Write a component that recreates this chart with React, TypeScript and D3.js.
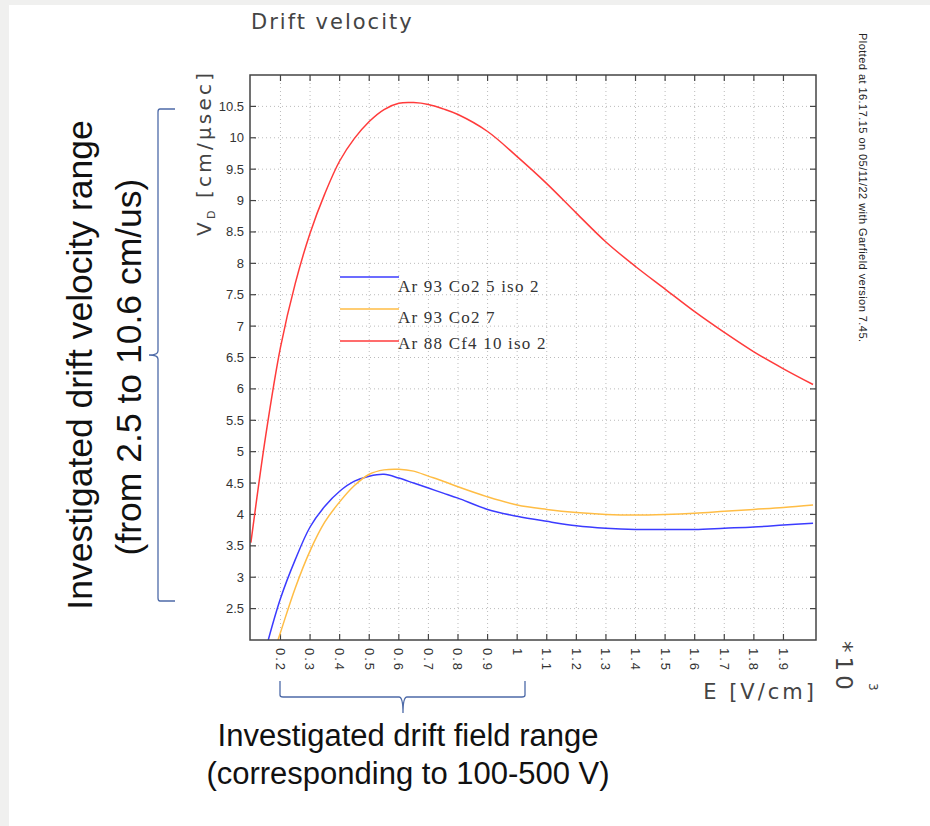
import React, { useRef, useEffect } from 'react';
import * as d3 from 'd3';

// E field in units of 10^3 V/cm
const fieldValues = [0.1, 0.15, 0.2, 0.25, 0.3, 0.35, 0.4, 0.45, 0.5, 0.55, 0.6, 0.65, 0.7, 0.75, 0.8, 0.9, 1.0, 1.1, 1.2, 1.3, 1.4, 1.5, 1.6, 1.7, 1.8, 1.9, 2.0];

// drift velocity in cm/us, null where the curve is off the plot
const ar93Co2Iso = [null, 1.85, 2.66, 3.28, 3.8, 4.13, 4.37, 4.53, 4.61, 4.64, 4.58, 4.5, 4.42, 4.34, 4.26, 4.08, 3.97, 3.89, 3.82, 3.78, 3.76, 3.76, 3.76, 3.78, 3.8, 3.83, 3.86];
const ar93Co2 = [null, 1.4, 2.12, 2.83, 3.42, 3.88, 4.2, 4.46, 4.64, 4.71, 4.72, 4.69, 4.61, 4.53, 4.44, 4.28, 4.15, 4.08, 4.03, 4.0, 3.99, 4.0, 4.02, 4.05, 4.08, 4.11, 4.15];
const ar88Cf4Iso = [3.55, 5.25, 6.66, 7.68, 8.48, 9.11, 9.63, 9.99, 10.26, 10.45, 10.55, 10.56, 10.53, 10.46, 10.37, 10.1, 9.7, 9.27, 8.8, 8.34, 7.95, 7.59, 7.23, 6.9, 6.59, 6.32, 6.07];

const seriesNames = ['Ar 93 Co2 5 iso 2', 'Ar 93 Co2 7', 'Ar 88 Cf4 10 iso 2'];
const seriesColors = ['#3b3bff', '#ffbd45', '#ff3b3b'];

const xTickValues = [0.2, 0.3, 0.4, 0.5, 0.6, 0.7, 0.8, 0.9, 1, 1.1, 1.2, 1.3, 1.4, 1.5, 1.6, 1.7, 1.8, 1.9];
const yTickValues = [2.5, 3, 3.5, 4, 4.5, 5, 5.5, 6, 6.5, 7, 7.5, 8, 8.5, 9, 9.5, 10, 10.5];

const width = 930;
const height = 826;

const DriftChart = () => {
    const svgRef = useRef<SVGSVGElement>(null);

    useEffect(() => {
        const svg = d3.select(svgRef.current);
        svg.selectAll('*').remove();

        const margin = { top: 75, right: 114, bottom: 186, left: 250 };
        const x = d3.scaleLinear().domain([0.097, 2.01]).range([margin.left, width - margin.right]);
        const y = d3.scaleLinear().domain([2, 11]).range([height - margin.bottom, margin.top]);
        const x0 = margin.left, x1 = width - margin.right;
        const y0 = height - margin.bottom, y1 = margin.top;

        // page background with grey strip
        svg.append('rect').attr('width', width).attr('height', height).attr('fill', '#f0f0ef');
        svg.append('rect').attr('x', 9).attr('y', 5).attr('width', width - 9).attr('height', height - 5).attr('fill', '#fff');

        // grid
        const grid = svg.append('g').attr('stroke', '#bbb').attr('stroke-width', 1).attr('stroke-dasharray', '1,3');
        grid.selectAll('.gx').data(xTickValues).enter().append('line')
            .attr('x1', d => x(d)).attr('x2', d => x(d)).attr('y1', y0).attr('y2', y1);
        grid.selectAll('.gy').data(yTickValues).enter().append('line')
            .attr('y1', d => y(d)).attr('y2', d => y(d)).attr('x1', x0).attr('x2', x1);

        // ticks, pointing inwards on every side
        const ticks = svg.append('g').attr('stroke', '#444').attr('stroke-width', 1.2);
        xTickValues.forEach(d => {
            ticks.append('line').attr('x1', x(d)).attr('x2', x(d)).attr('y1', y0).attr('y2', y0 - 6);
            ticks.append('line').attr('x1', x(d)).attr('x2', x(d)).attr('y1', y1).attr('y2', y1 + 6);
        });
        yTickValues.forEach(d => {
            ticks.append('line').attr('y1', y(d)).attr('y2', y(d)).attr('x1', x0).attr('x2', x0 + 6);
            ticks.append('line').attr('y1', y(d)).attr('y2', y(d)).attr('x1', x1).attr('x2', x1 - 6);
        });

        // curves
        svg.append('clipPath').attr('id', 'plotClip').append('rect')
            .attr('x', x0).attr('y', y1).attr('width', x1 - x0).attr('height', y0 - y1);

        const line = d3.line<number | null>()
            .defined(d => d !== null)
            .x((d, i) => x(fieldValues[i]))
            .y(d => y(d as number))
            .curve(d3.curveCatmullRom);

        const curves = svg.append('g').attr('clip-path', 'url(#plotClip)');
        [ar93Co2Iso, ar93Co2, ar88Cf4Iso].forEach((series, i) => {
            curves.append('path')
                .attr('d', line(series))
                .attr('fill', 'none')
                .attr('stroke', seriesColors[i])
                .attr('stroke-width', 1.5);
        });

        // frame
        svg.append('rect').attr('x', x0).attr('y', y1).attr('width', x1 - x0).attr('height', y0 - y1)
            .attr('fill', 'none').attr('stroke', '#444').attr('stroke-width', 1.5);

        // y tick labels
        svg.append('g').selectAll('text').data(yTickValues).enter().append('text')
            .attr('x', x0 - 6).attr('y', d => y(d)).attr('dy', '0.35em')
            .attr('text-anchor', 'end')
            .attr('font-family', 'Liberation Sans, Arial, sans-serif').attr('font-size', 13).attr('fill', '#333')
            .text(d => String(d));

        // x tick labels, turned
        svg.append('g').selectAll('text').data(xTickValues).enter().append('text')
            .attr('transform', d => `translate(${x(d)},${y0 + 8}) rotate(90)`)
            .attr('dy', '0.35em')
            .attr('font-family', 'Liberation Sans, Arial, sans-serif').attr('font-size', 13).attr('fill', '#333')
            .attr('letter-spacing', 2)
            .text(d => String(d));

        const garfieldFont = 'DejaVu Sans, sans-serif';

        svg.append('text').attr('x', 251).attr('y', 29)
            .attr('font-family', garfieldFont).attr('font-size', 21).attr('letter-spacing', 2)
            .attr('fill', '#444').text('Drift velocity');

        const yLabel = svg.append('text').attr('transform', 'translate(211,236) rotate(-90)')
            .attr('font-family', garfieldFont).attr('font-size', 20).attr('letter-spacing', 3.2).attr('fill', '#444');
        yLabel.append('tspan').text('V');
        yLabel.append('tspan').attr('font-size', 11).attr('dy', 4).text('D');
        yLabel.append('tspan').attr('dy', -4).text(' [cm/\u03bcsec]');

        svg.append('text').attr('x', x1 + 1).attr('y', 699).attr('text-anchor', 'end')
            .attr('font-family', garfieldFont).attr('font-size', 21).attr('letter-spacing', 3)
            .attr('fill', '#444').text('E [V/cm]');

        svg.append('text').attr('transform', 'translate(836,641) rotate(90)')
            .attr('font-family', garfieldFont).attr('font-size', 23).attr('letter-spacing', 4)
            .attr('fill', '#444').text('*10');
        svg.append('text').attr('transform', 'translate(869,683) rotate(90)')
            .attr('font-family', garfieldFont).attr('font-size', 12)
            .attr('fill', '#444').text('3');

        svg.append('text').attr('transform', 'translate(859,33) rotate(90)')
            .attr('font-family', 'Liberation Sans, Arial, sans-serif').attr('font-size', 11)
            .attr('letter-spacing', 0.45)
            .attr('fill', '#222').text('Plotted at 16.17.15 on 05/11/22 with Garfield version 7.45.');

        // legend
        const legendY = [277, 309, 341];
        const legend = svg.append('g');
        seriesNames.forEach((name, i) => {
            legend.append('line').attr('x1', 340).attr('x2', 399).attr('y1', legendY[i]).attr('y2', legendY[i])
                .attr('stroke', seriesColors[i]).attr('stroke-width', 1.5);
            legend.append('text').attr('x', 398).attr('y', legendY[i] + [15, 14, 8][i])
                .attr('font-family', 'Liberation Serif, Times New Roman, serif').attr('font-size', 17)
                .attr('letter-spacing', 1.2).attr('fill', '#333').text(name);
        });

        // annotation braces
        const braceColor = '#4d6aa8';
        svg.append('path')
            .attr('d', 'M175,109 L160,109 Q158,109 158,112 L158,351 Q158,355 149,355 Q158,355 158,359 L158,598 Q158,601 160,601 L175,601')
            .attr('fill', 'none').attr('stroke', braceColor).attr('stroke-width', 1.3);
        svg.append('path')
            .attr('d', 'M280,681 L280,695 Q280,697 283,697 L399,697 Q403,697 403,713 Q403,697 407,697 L522,697 Q525,697 525,695 L525,681')
            .attr('fill', 'none').attr('stroke', braceColor).attr('stroke-width', 1.3);

        const noteFont = 'Liberation Sans, Arial, sans-serif';
        svg.append('text').attr('transform', 'translate(92,365) rotate(-90)').attr('text-anchor', 'middle')
            .attr('font-family', noteFont).attr('font-size', 35.5).attr('fill', '#111')
            .text('Investigated drift velocity range');
        svg.append('text').attr('transform', 'translate(141,367) rotate(-90)').attr('text-anchor', 'middle')
            .attr('font-family', noteFont).attr('font-size', 35.5).attr('fill', '#111')
            .text('(from 2.5 to 10.6 cm/us)');

        svg.append('text').attr('x', 408).attr('y', 746).attr('text-anchor', 'middle')
            .attr('font-family', noteFont).attr('font-size', 31).attr('fill', '#111')
            .text('Investigated drift field range');
        svg.append('text').attr('x', 408).attr('y', 784).attr('text-anchor', 'middle')
            .attr('font-family', noteFont).attr('font-size', 31).attr('fill', '#111')
            .text('(corresponding to 100-500 V)');
    }, []);

    return <svg ref={svgRef} width={width} height={height} style={{ display: 'block' }}></svg>;
};

export default function App() {
    return (
        <div>
            <style>{'body { margin: 0; }'}</style>
            <DriftChart />
        </div>
    );
}
